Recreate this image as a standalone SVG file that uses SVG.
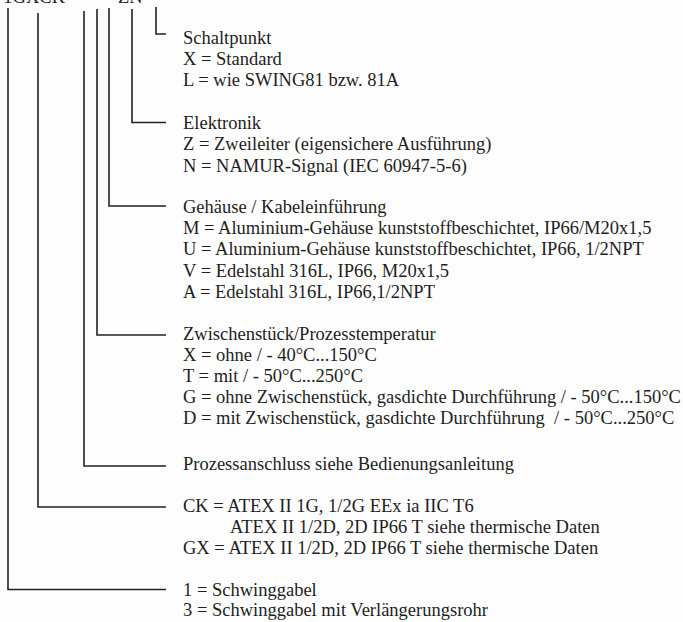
<svg xmlns="http://www.w3.org/2000/svg" width="683" height="622" viewBox="0 0 683 622">
<style>
text{font-family:"Liberation Serif","Times New Roman",serif;font-size:18.5px;fill:#1e1e1e}
.c{fill:none;stroke:#222;stroke-width:1.6}
</style>
<rect width="683" height="622" fill="#fdfdfd"/>
<g id="code">
<text x="65" y="3" text-anchor="end">1GXCK</text>
<text x="118" y="3">ZN</text>
</g>
<g id="connectors">
<polyline class="c" points="156,7 156,34 166,34"/>
<polyline class="c" points="132,9 132,122.5 166,122.5"/>
<polyline class="c" points="109,8 109,206 166,206"/>
<polyline class="c" points="97,9 97,335 166,335"/>
<polyline class="c" points="84,11 84,466 166,466"/>
<polyline class="c" points="38,13 38,507 166,507"/>
<polyline class="c" points="8,8 8,589.5 166,589.5"/>
</g>
<g id="schaltpunkt">
<text x="183" y="44">Schaltpunkt</text>
<text x="183" y="65">X = Standard</text>
<text x="183" y="86">L = wie SWING81 bzw. 81A</text>
</g>
<g id="elektronik">
<text x="183" y="129">Elektronik</text>
<text x="183" y="150">Z = Zweileiter (eigensichere Ausführung)</text>
<text x="183" y="172">N = NAMUR-Signal (IEC 60947-5-6)</text>
</g>
<g id="gehaeuse">
<text x="183" y="213">Gehäuse / Kabeleinführung</text>
<text x="183" y="234">M = Aluminium-Gehäuse kunststoffbeschichtet, IP66/M20x1,5</text>
<text x="183" y="255">U = Aluminium-Gehäuse kunststoffbeschichtet, IP66, 1/2NPT</text>
<text x="183" y="277">V = Edelstahl 316L, IP66, M20x1,5</text>
<text x="183" y="298">A = Edelstahl 316L, IP66,1/2NPT</text>
</g>
<g id="zwischenstueck">
<text x="183" y="340">Zwischenstück/Prozesstemperatur</text>
<text x="183" y="361">X = ohne / - 40°C...150°C</text>
<text x="183" y="382">T = mit / - 50°C...250°C</text>
<text x="183" y="403">G = ohne Zwischenstück, gasdichte Durchführung / - 50°C...150°C</text>
<text x="183" y="424" xml:space="preserve">D = mit Zwischenstück, gasdichte Durchführung  / - 50°C...250°C</text>
</g>
<g id="prozessanschluss">
<text x="183" y="470">Prozessanschluss siehe Bedienungsanleitung</text>
</g>
<g id="atex">
<text x="183" y="512">CK = ATEX II 1G, 1/2G EEx ia IIC T6</text>
<text x="230" y="533">ATEX II 1/2D, 2D IP66 T siehe thermische Daten</text>
<text x="183" y="554">GX = ATEX II 1/2D, 2D IP66 T siehe thermische Daten</text>
</g>
<g id="typ">
<text x="183" y="596">1 = Schwinggabel</text>
<text x="183" y="616">3 = Schwinggabel mit Verlängerungsrohr</text>
</g>
</svg>
